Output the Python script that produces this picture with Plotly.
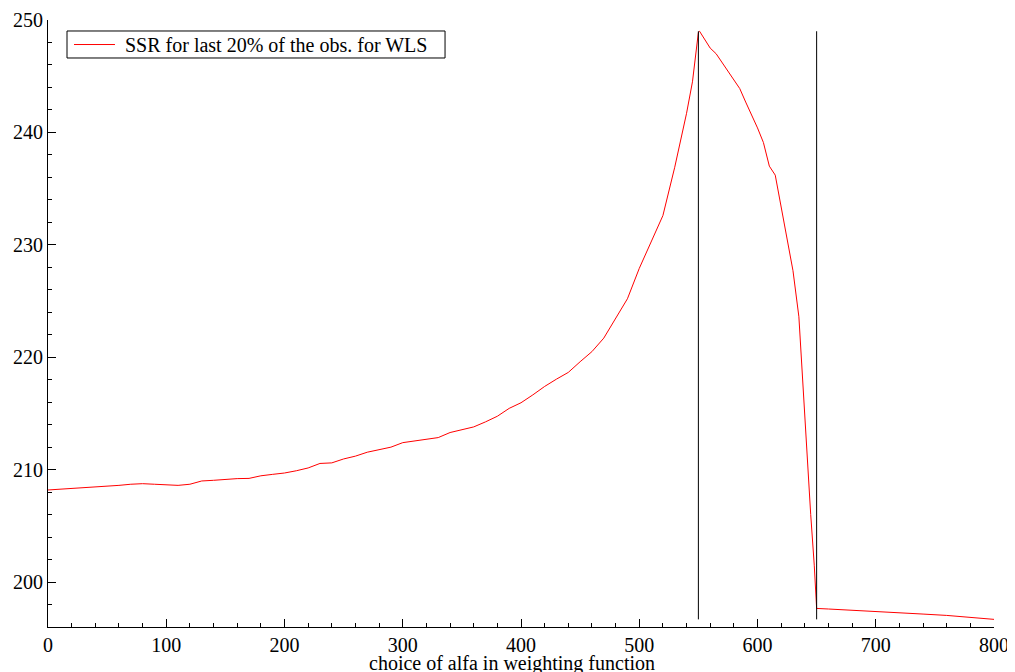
import plotly.graph_objects as go

# alfa choices and SSR values
alfa = [0, 10, 20, 30, 40, 50, 60, 70, 80, 90, 100, 110, 120, 130, 140, 150, 160, 170, 180, 190,
        200, 210, 220, 230, 240, 250, 260, 270, 280, 290, 300, 310, 320, 330, 340, 350, 360, 370,
        380, 390, 400, 410, 420, 430, 440, 450, 460, 470, 480, 490, 500, 510, 520, 530, 540, 545,
        550, 551, 555, 560, 565, 570, 575, 580, 585, 590, 595, 600, 605, 610, 615, 620, 625, 630,
        635, 640, 645, 648, 650, 660, 680, 700, 720, 740, 760, 780, 800]
ssr = [208.19, 208.25, 208.35, 208.42, 208.48, 208.54, 208.60, 208.70, 208.75, 208.70,
       208.65, 208.60, 208.70, 208.99, 209.05, 209.15, 209.20, 209.22, 209.45, 209.58,
       209.70, 209.90, 210.15, 210.55, 210.60, 210.95, 211.20, 211.55, 211.80, 212.00,
       212.40, 212.55, 212.70, 212.85, 213.30, 213.55, 213.80, 214.25, 214.75, 215.45,
       215.95, 216.65, 217.40, 218.05, 218.65, 219.60, 220.50, 221.70, 223.50, 225.20,
       227.90, 230.30, 232.60, 236.90, 241.70, 244.50, 248.90, 249.00, 248.30, 247.50,
       247.00, 246.20, 245.50, 244.65, 243.90, 242.70, 241.60, 240.40, 239.10, 237.00,
       236.20, 233.30, 230.40, 227.70, 223.60, 214.50, 206.00, 201.50, 197.65, 197.60,
       197.50, 197.38, 197.28, 197.15, 197.03, 196.88, 196.68]
vline_x = [550, 650]
legend_name = "SSR for last 20% of the obs. for WLS"
x_title = "choice of alfa in weighting function"

FONT = "Liberation Serif"

fig = go.Figure()
fig.add_trace(go.Scatter(x=alfa, y=ssr, mode="lines", name=legend_name, showlegend=False,
                         line=dict(color="#ff0000", width=1)))
ymin, ymax = min(ssr), max(ssr)
for vx in vline_x:
    fig.add_trace(go.Scatter(x=[vx, vx], y=[ymin, ymax], mode="lines", showlegend=False,
                             line=dict(color="black", width=1), hoverinfo="skip"))

axis_common = dict(showgrid=False, zeroline=False, showline=True, linecolor="black", linewidth=1,
                   ticks="inside", ticklen=8, tickcolor="black", tickwidth=1,
                   tickfont=dict(family=FONT, size=20, color="black"))
fig.update_layout(
    width=1007, height=664,
    margin=dict(l=40, r=21, t=12, b=45),
    paper_bgcolor="white", plot_bgcolor="white",
    font=dict(family=FONT, size=20, color="black"),
    xaxis=dict(range=[0, 800], dtick=100, tick0=0,
               minor=dict(dtick=20, ticks="inside", ticklen=4, tickcolor="black"),
               automargin=False, **axis_common),
    yaxis=dict(range=[196, 250], dtick=10, tick0=0,
               minor=dict(dtick=2, ticks="inside", ticklen=4, tickcolor="black"),
               automargin=False, **axis_common),
    showlegend=False,
)

# x-axis title
fig.add_annotation(text=x_title, xref="paper", yref="paper", x=0.49, y=-0.06,
                   xanchor="center", yanchor="middle", showarrow=False,
                   font=dict(family=FONT, size=20, color="black"))

# legend box drawn by hand (box, line sample, label)
fig.add_shape(type="rect", xref="paper", yref="paper", x0=0.0201, x1=0.4197, y0=0.9374, y1=0.9819,
              line=dict(color="black", width=1), fillcolor="white", layer="above")
fig.add_shape(type="line", xref="paper", yref="paper", x0=0.0275, x1=0.0708, y0=0.9596, y1=0.9596,
              line=dict(color="#ff0000", width=1), layer="above")
fig.add_annotation(text=legend_name, xref="paper", yref="paper", x=0.0793, y=0.9596,
                   xanchor="left", yanchor="middle", showarrow=False,
                   font=dict(family=FONT, size=20, color="black"))
fig.write_html("out.html")
